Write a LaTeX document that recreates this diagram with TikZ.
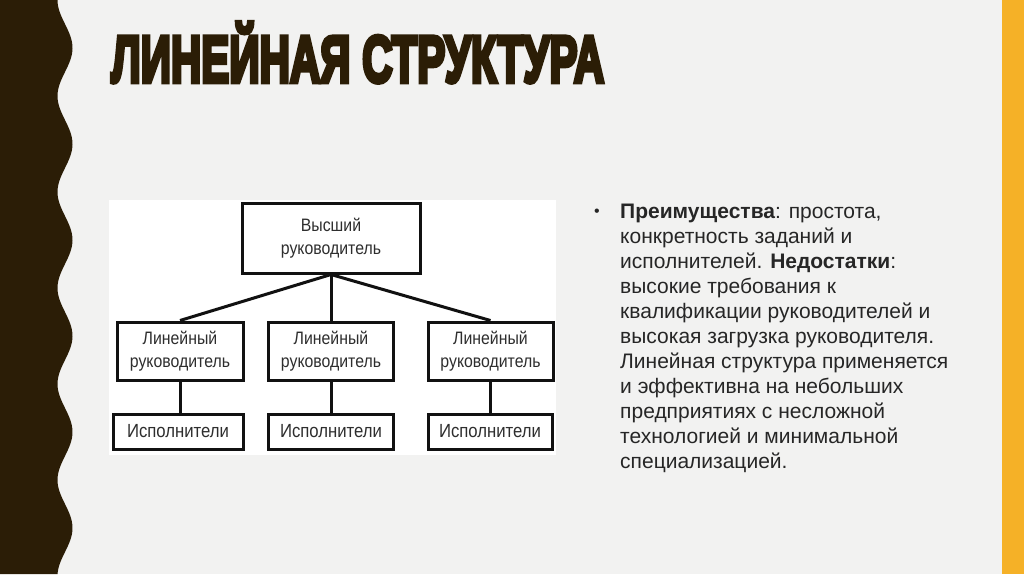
\documentclass[tikz,border=0pt]{standalone}
\usepackage{fontspec}
\usepackage{graphicx}
\setmainfont{Liberation Sans}
\newfontfamily\titlefont[UprightFont={* Bold},UprightFeatures={FakeBold=7}]{Liberation Sans}
\newfontfamily\diagfont[FakeStretch=0.88]{Liberation Sans}
\definecolor{bgc}{HTML}{F2F2F1}
\definecolor{brownc}{HTML}{2B1D06}
\definecolor{orangec}{HTML}{F5B127}
\definecolor{bodyc}{HTML}{262626}
\definecolor{diagc}{HTML}{2E2E2E}
\definecolor{linec}{HTML}{111111}
\tikzset{
  body/.style={anchor=base west, inner sep=0, text=bodyc, font=\fontsize{21}{25}\selectfont},
  orgbox/.style={draw=linec, line width=3pt, fill=white, align=center, inner sep=0,
    text=diagc, font=\diagfont\fontsize{18}{22.5}\selectfont},
  link/.style={draw=linec, line width=3pt}
}
\begin{document}
\begin{tikzpicture}[x=1pt,y=-1pt]
\useasboundingbox (0,0) rectangle (1024,574);
\fill[bgc] (0,0) rectangle (1024,574);
\fill[orangec] (1002,0) rectangle (1024,574);
\fill[brownc] (0,0) -- plot[domain=0:574, samples=240, variable=\t] ({65-7.5*cos(\t/96*360)},\t) -- (0,574) -- cycle;

% title
\node[anchor=base west, inner sep=0, text=brownc] (title) at (111,82)
  {\resizebox{493pt}{\height}{\fontsize{66}{66}\selectfont\titlefont ЛИНЕЙНАЯ СТРУКТУРА}};

% diagram panel
\fill[white] (109,200) rectangle (556,455);

\node[orgbox, minimum width=178pt, minimum height=70pt] (top) at (331,238) {Высший\\руководитель};
\node[orgbox, minimum width=126pt, minimum height=58pt] (m1) at (180,351) {Линейный\\руководитель};
\node[orgbox, minimum width=125pt, minimum height=58pt] (m2) at (331,351) {Линейный\\руководитель};
\node[orgbox, minimum width=125pt, minimum height=58pt] (m3) at (490.5,351) {Линейный\\руководитель};
\node[orgbox, minimum width=130pt, minimum height=35pt, font=\diagfont\fontsize{19}{22}\selectfont] (b1) at (178,431.5) {Исполнители};
\node[orgbox, minimum width=125pt, minimum height=35pt, font=\diagfont\fontsize{19}{22}\selectfont] (b2) at (331,431.5) {Исполнители};
\node[orgbox, minimum width=124pt, minimum height=35pt, font=\diagfont\fontsize{19}{22}\selectfont] (b3) at (490,431.5) {Исполнители};

\coordinate (hub) at (top.south);
\draw[link] (hub) -- (m1.north);
\draw[link] (hub) -- (m2.north);
\draw[link] (hub) -- (m3.north);
\draw[link] (m1.south) -- (m1.south |- b1.north);
\draw[link] (m2.south) -- (b2.north);
\draw[link] (m3.south) -- (m3.south |- b3.north);

% text block
\node[anchor=base west, inner sep=0, text=bodyc, font=\fontsize{16}{16}\selectfont] (bullet) at (594,216) {•};
\node[body] (l1) at (620,218) {\textbf{Преимущества}: простота,};
\node[body] (l2) at (620,243) {конкретность заданий и};
\node[body] (l3) at (620,268) {исполнителей. \textbf{Недостатки}:};
\node[body] (l4) at (620,293) {высокие требования к};
\node[body] (l5) at (620,318) {квалификации руководителей и};
\node[body] (l6) at (620,343) {высокая загрузка руководителя.};
\node[body] (l7) at (620,368) {Линейная структура применяется};
\node[body] (l8) at (620,393) {и эффективна на небольших};
\node[body] (l9) at (620,418) {предприятиях с несложной};
\node[body] (l10) at (620,443) {технологией и минимальной};
\node[body] (l11) at (620,468) {специализацией.};
\end{tikzpicture}
\end{document}
